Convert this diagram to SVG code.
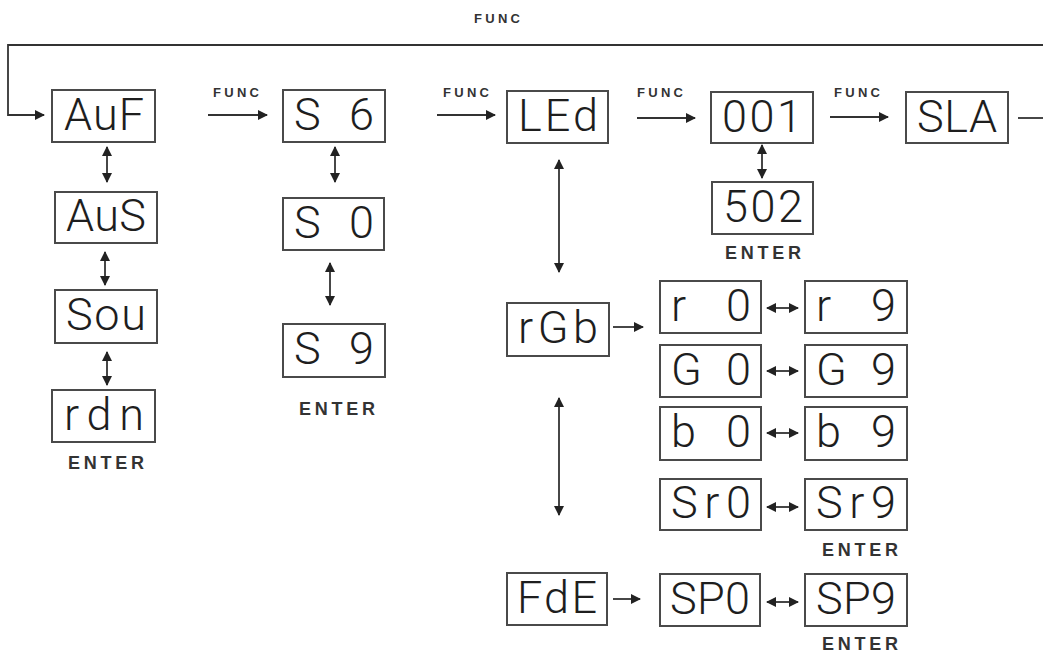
<svg xmlns="http://www.w3.org/2000/svg" width="1043" height="652" viewBox="0 0 1043 652">
<style>
.box{fill:#fff;stroke:#4a4a4a;stroke-width:2}
.seg{font-family:Roboto,"DejaVu Sans Mono",sans-serif;font-weight:300;font-size:45px;fill:#1e1e1e;text-anchor:middle}
.lbl{font-family:"Liberation Sans",Arial,sans-serif;font-weight:bold;font-size:13px;fill:#333;text-anchor:middle}
.ent{font-family:"Liberation Sans",Arial,sans-serif;font-weight:bold;font-size:18px;fill:#333;text-anchor:middle}
.ln{fill:none;stroke:#333;stroke-width:1.8}
.a1{marker-end:url(#ah)}
.a2{marker-start:url(#ah);marker-end:url(#ah)}
</style>
<defs>
<marker id="ah" viewBox="0 0 10 10" refX="9" refY="5" markerWidth="11" markerHeight="10" orient="auto-start-reverse" markerUnits="userSpaceOnUse">
<path d="M0,0L10,5L0,10z" fill="#222"/>
</marker>
</defs>
<rect width="1043" height="652" fill="#fff"/>

<g id="connectors">
<path class="ln a1" d="M1043,45H8V115H44"/>
<path class="ln" d="M1018,118H1043"/>
<path class="ln a1" d="M208,115H267"/>
<path class="ln a1" d="M437,115H495"/>
<path class="ln a1" d="M637,118H695"/>
<path class="ln a1" d="M830,117H888"/>
<path class="ln a2" d="M107,147V182"/>
<path class="ln a2" d="M105,252V285"/>
<path class="ln a2" d="M107,352V385"/>
<path class="ln a2" d="M335,147V182"/>
<path class="ln a2" d="M330,263V305"/>
<path class="ln a2" d="M762,145V178"/>
<path class="ln a2" d="M559,160V272"/>
<path class="ln a2" d="M559,398V515"/>
<path class="ln a1" d="M613,327H643"/>
<path class="ln a1" d="M613,599H640"/>
<path class="ln a2" d="M767,308H798"/>
<path class="ln a2" d="M767,371H798"/>
<path class="ln a2" d="M767,433H798"/>
<path class="ln a2" d="M767,507H798"/>
<path class="ln a2" d="M767,602H798"/>
<text class="lbl" x="497" y="23" font-size="15" textLength="46">FUNC</text>
<text class="lbl" x="236" y="97" textLength="46">FUNC</text>
<text class="lbl" x="466" y="97" textLength="46">FUNC</text>
<text class="lbl" x="660" y="97" textLength="46">FUNC</text>
<text class="lbl" x="857" y="97" textLength="46">FUNC</text>
</g>

<g id="n-auf"><rect class="box" x="52" y="90" width="103" height="52"/><text class="seg" x="104" y="130" textLength="80">AuF</text></g>
<g id="n-aus"><rect class="box" x="55" y="192" width="102" height="51"/><text class="seg" x="106" y="231" textLength="80">AuS</text></g>
<g id="n-sou"><rect class="box" x="55" y="290" width="102" height="53"/><text class="seg" x="106" y="330" textLength="80">Sou</text></g>
<g id="n-rdn"><rect class="box" x="52" y="390" width="103" height="52"/><text class="seg" x="104" y="430" textLength="80">rdn</text><text class="ent" x="106" y="469" textLength="76">ENTER</text></g>

<g id="n-s6"><rect class="box" x="283" y="90" width="102" height="52"/><text class="seg" x="334" y="130" textLength="80">S 6</text></g>
<g id="n-s0"><rect class="box" x="283" y="198" width="101" height="52"/><text class="seg" x="334" y="238" textLength="80">S 0</text></g>
<g id="n-s9"><rect class="box" x="283" y="324" width="102" height="53"/><text class="seg" x="334" y="364" textLength="80">S 9</text><text class="ent" x="337" y="415" textLength="76">ENTER</text></g>

<g id="n-led"><rect class="box" x="507" y="91" width="101" height="52"/><text class="seg" x="558" y="131" textLength="80">LEd</text></g>
<g id="n-001"><rect class="box" x="711" y="92" width="102" height="51"/><text class="seg" x="762" y="132" textLength="80">001</text></g>
<g id="n-502"><rect class="box" x="712" y="182" width="101" height="52"/><text class="seg" x="763" y="222" textLength="80">502</text><text class="ent" x="763" y="259" textLength="76">ENTER</text></g>
<g id="n-sla"><rect class="box" x="906" y="92" width="102" height="51"/><text class="seg" x="957" y="132" textLength="80">SLA</text></g>

<g id="n-rgb"><rect class="box" x="507" y="303" width="102" height="53"/><text class="seg" x="558" y="343" textLength="80">rGb</text></g>
<g id="n-r0"><rect class="box" x="660" y="281" width="101" height="52"/><text class="seg" x="711" y="321" textLength="80">r 0</text></g>
<g id="n-r9"><rect class="box" x="805" y="281" width="102" height="52"/><text class="seg" x="856" y="321" textLength="80">r 9</text></g>
<g id="n-g0"><rect class="box" x="660" y="345" width="101" height="52"/><text class="seg" x="711" y="385" textLength="80">G 0</text></g>
<g id="n-g9"><rect class="box" x="805" y="345" width="102" height="52"/><text class="seg" x="856" y="385" textLength="80">G 9</text></g>
<g id="n-b0"><rect class="box" x="660" y="407" width="101" height="53"/><text class="seg" x="711" y="447" textLength="80">b 0</text></g>
<g id="n-b9"><rect class="box" x="805" y="407" width="102" height="53"/><text class="seg" x="856" y="447" textLength="80">b 9</text></g>
<g id="n-sr0"><rect class="box" x="660" y="479" width="101" height="51"/><text class="seg" x="711" y="518" textLength="80">Sr0</text></g>
<g id="n-sr9"><rect class="box" x="805" y="479" width="102" height="51"/><text class="seg" x="856" y="518" textLength="80">Sr9</text><text class="ent" x="860" y="556" textLength="76">ENTER</text></g>

<g id="n-fde"><rect class="box" x="507" y="573" width="100" height="52"/><text class="seg" x="557" y="613" textLength="80">FdE</text></g>
<g id="n-sp0"><rect class="box" x="660" y="574" width="100" height="52"/><text class="seg" x="710" y="614" textLength="80">SP0</text></g>
<g id="n-sp9"><rect class="box" x="805" y="574" width="102" height="52"/><text class="seg" x="856" y="614" textLength="80">SP9</text><text class="ent" x="860" y="650" textLength="76">ENTER</text></g>
</svg>
